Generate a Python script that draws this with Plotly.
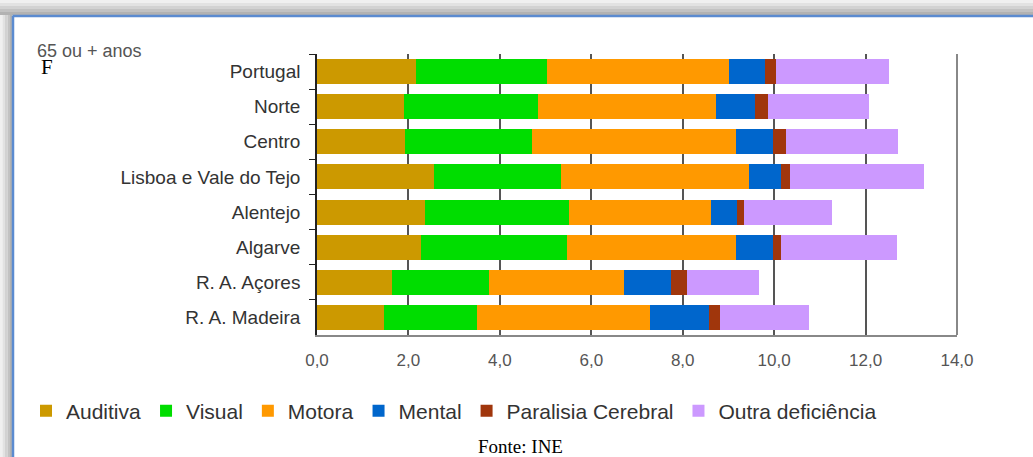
import plotly.graph_objects as go

regions = ["Portugal", "Norte", "Centro", "Lisboa e Vale do Tejo", "Alentejo",
           "Algarve", "R. A. Açores", "R. A. Madeira"]

auditiva = [2.17, 1.90, 1.93, 2.56, 2.36, 2.28, 1.65, 1.47]
visual = [2.86, 2.94, 2.77, 2.78, 3.15, 3.19, 2.11, 2.03]
motora = [3.99, 3.89, 4.47, 4.11, 3.11, 3.70, 2.96, 3.79]
mental = [0.78, 0.85, 0.81, 0.70, 0.57, 0.81, 1.03, 1.29]
paralisia = [0.24, 0.29, 0.28, 0.20, 0.15, 0.17, 0.35, 0.24]
outra = [2.48, 2.21, 2.45, 2.93, 1.93, 2.54, 1.57, 1.95]

series_names = ["Auditiva", "Visual", "Motora", "Mental", "Paralisia Cerebral", "Outra deficiência"]
series_values = [auditiva, visual, motora, mental, paralisia, outra]
series_colors = ["#CC9900", "#00DD00", "#FF9900", "#0066CC", "#A0360C", "#CC99FF"]

tick_vals = [0, 2, 4, 6, 8, 10, 12, 14]
tick_text = ["0,0", "2,0", "4,0", "6,0", "8,0", "10,0", "12,0", "14,0"]

W, H = 1033, 457
L, R, T, B = 317, 76, 54, 122
PW, PH = W - L - R, H - T - B


def fx(px):
    return (px - L) / PW


def fy(py):
    return (H - B - py) / PH


fig = go.Figure()
for name, vals, col in zip(series_names, series_values, series_colors):
    fig.add_trace(go.Bar(y=regions, x=vals, name=name, orientation="h",
                         marker=dict(color=col, line=dict(width=0))))

shapes = []
# frame shadow (top and left) and blue border
greys = ["#f0f0f0", "#e2e2e2", "#d2d2d2", "#c2c2c2", "#b2b2b2"]
for i, g in enumerate(greys):
    shapes.append(dict(type="rect", xref="paper", yref="paper",
                       x0=fx(0), x1=fx(W), y0=fy(i * 3), y1=fy(i * 3 + 3),
                       fillcolor=g, line=dict(width=0), layer="below"))
    shapes.append(dict(type="rect", xref="paper", yref="paper",
                       x0=fx(i * 2.5), x1=fx(i * 2.5 + 2.5), y0=fy(H), y1=fy(15),
                       fillcolor=g, line=dict(width=0), layer="below"))
shapes.append(dict(type="line", xref="paper", yref="paper",
                   x0=fx(12.5), x1=fx(W), y0=fy(16), y1=fy(16),
                   line=dict(color="#5B8BD0", width=2.5)))
shapes.append(dict(type="line", xref="paper", yref="paper",
                   x0=fx(13), x1=fx(13), y0=fy(16), y1=fy(H),
                   line=dict(color="#5B8BD0", width=2.5)))
# right border of plot
shapes.append(dict(type="line", xref="paper", yref="paper",
                   x0=1, x1=1, y0=0, y1=1, line=dict(color="#888888", width=2)))

fig.update_layout(
    width=W, height=H,
    margin=dict(l=L, r=R, t=T, b=B),
    paper_bgcolor="white", plot_bgcolor="white",
    barmode="stack", bargap=0.29,
    font=dict(family="Liberation Sans, Arial, sans-serif", color="#333333"),
    showlegend=True,
    legend=dict(orientation="h", x=fx(26), y=fy(411), xanchor="left", yanchor="middle",
                traceorder="normal", font=dict(size=21, color="#333333"),
                bgcolor="rgba(0,0,0,0)"),
    xaxis=dict(range=[0, 14], tickvals=tick_vals, ticktext=tick_text,
               showgrid=True, gridcolor="#555555", gridwidth=1.5,
               zeroline=False, showline=True, linecolor="#888888", linewidth=2,
               ticks="", ticklabelstandoff=9, tickfont=dict(size=17, color="#555555")),
    xaxis2=dict(range=[0, 14], overlaying="x", side="top", anchor="y",
                tickvals=tick_vals, showticklabels=False, ticks="outside",
                ticklen=4, tickcolor="#333333", tickwidth=1.5,
                showline=True, linecolor="#333333", linewidth=1.5,
                showgrid=False, zeroline=False),
    yaxis=dict(categoryorder="array", categoryarray=regions, autorange="reversed",
               showline=True, linecolor="#222222", linewidth=1.5,
               ticks="outside", tickson="boundaries", ticklen=6, tickcolor="#222222",
               tickwidth=1.2, showgrid=False, ticklabelstandoff=11,
               tickfont=dict(size=19, color="#333333")),
    shapes=shapes,
    annotations=[
        dict(text="65 ou + anos", xref="paper", yref="paper", x=fx(35), y=fy(51),
             xanchor="left", yanchor="middle", showarrow=False,
             font=dict(size=18, color="#555555")),
        dict(text="F", xref="paper", yref="paper", x=fx(39), y=fy(67),
             xanchor="left", yanchor="middle", showarrow=False,
             font=dict(family="Liberation Serif, Times New Roman, serif", size=21,
                       color="#000000")),
        dict(text="Fonte: INE", xref="paper", yref="paper", x=fx(520), y=fy(446),
             xanchor="center", yanchor="middle", showarrow=False,
             font=dict(family="Liberation Serif, Times New Roman, serif", size=19,
                       color="#000000")),
    ],
)

fig.write_html("out.html", config={"displayModeBar": False},
               post_script="document.body.style.margin='0';document.body.style.overflow='hidden';")
